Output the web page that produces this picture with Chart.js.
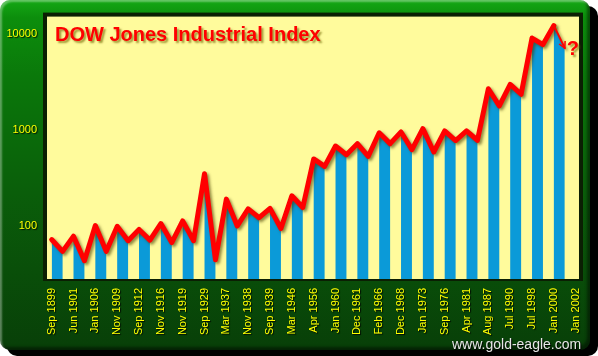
<!DOCTYPE html>
<html><head><meta charset="utf-8">
<script src="https://cdn.jsdelivr.net/npm/chart.js@4/dist/chart.umd.min.js"></script>
<style>
html,body{margin:0;padding:0;background:#fff;width:598px;height:356px;overflow:hidden;}
#shadow{position:absolute;left:7px;top:6px;width:591px;height:350px;background:#000;border-radius:10px;}
#frame{position:absolute;left:0;top:0;width:590px;height:350px;border-radius:10px;
 background:linear-gradient(180deg,#14a814 0%,#0c8e0c 5%,#0a780a 22%,#0a5e0a 55%,#083f08 100%);
 box-shadow:inset 2px 2px 2px rgba(255,255,255,0.35), inset -3px -3px 3px rgba(0,0,0,0.45);}
#c{position:absolute;left:0;top:0;}
#title{position:absolute;left:55px;top:24px;font:bold 20px "Liberation Sans",Arial,sans-serif;line-height:20px;color:#ff0000;text-shadow:2px 2px 2px rgba(110,100,0,0.65);white-space:nowrap;}
#site{position:absolute;left:452px;top:337px;font:14px "Liberation Sans",Arial,sans-serif;line-height:14px;color:#e6e6e6;text-shadow:1px 1px 1px #000;white-space:nowrap;}
</style></head>
<body>
<div id="shadow"></div>
<div id="frame"></div>
<canvas id="c" width="598" height="356"></canvas>
<div id="title">DOW Jones Industrial Index</div>
<div id="site">www.gold-eagle.com</div>
<script>
// category labels (x axis)
const labels = ['Sep 1899','Jun 1901','Jan 1906','Nov 1909','Sep 1912','Nov 1916','Nov 1919','Sep 1929','Mar 1937','Nov 1938','Sep 1939','Mar 1946','Apr 1956','Jan 1960','Dec 1961','Feb 1966','Dec 1968','Jan 1973','Sep 1976','Apr 1981','Aug 1987','Jul 1990','Jul 1998','Jan 2000','Jan 2002'];
// index value at each labelled peak
const peaks = [73, 79, 102, 100, 93, 107, 114, 352, 192, 152, 154, 208, 502, 684, 724, 938, 956, 1037, 980, 985, 2692, 2983, 9048, 12190];
// index value at the following low
const troughs = [55, 44, 55, 71, 72, 68, 71, 45, 101, 123, 95, 157, 420, 555, 535, 724, 628, 593, 780, 785, 1785, 2360, 7748, 7125];
// y axis tick values
const yTicks = [100, 1000, 10000];

const linePts = [];
peaks.forEach((p, i) => { linePts.push({x: i, y: p}); linePts.push({x: i + 0.5, y: troughs[i]}); });
const barPts = peaks.map((p, i) => ({x: i + 0.25, y: p}));
const lastSeg = linePts.length - 1;

const deco = {
  id: 'deco',
  beforeDraw(chart) {
    const {ctx, chartArea: a} = chart;
    ctx.save();
    ctx.fillStyle = '#0b1f03';
    ctx.fillRect(a.left - 4, a.top - 4, a.right - a.left + 8, a.bottom - a.top + 6);
    ctx.fillStyle = '#fffb9c';
    ctx.fillRect(a.left, a.top, a.right - a.left, a.bottom - a.top);
    ctx.restore();
    ctx.save();
    ctx.shadowColor = 'rgba(0,0,0,0.85)';
    ctx.shadowOffsetX = 1; ctx.shadowOffsetY = 1; ctx.shadowBlur = 1;
  },
  beforeDatasetsDraw(chart) { chart.ctx.restore(); },
  beforeDatasetDraw(chart, args) {
    const ctx = chart.ctx;
    ctx.save();
    if (args.meta.type === 'bar') {
      const pts = chart.getDatasetMeta(0).data;
      const b = chart.chartArea.bottom;
      ctx.beginPath();
      ctx.moveTo(pts[0].x, b);
      pts.forEach(p => ctx.lineTo(p.x, p.y));
      ctx.lineTo(pts[pts.length - 1].x, b);
      ctx.closePath();
      ctx.clip();
    } else {
      ctx.shadowColor = 'rgba(70,60,0,0.6)';
      ctx.shadowOffsetX = 2; ctx.shadowOffsetY = 2; ctx.shadowBlur = 3;
    }
  },
  afterDatasetDraw(chart) { chart.ctx.restore(); },
  afterDatasetsDraw(chart) {
    const ctx = chart.ctx;
    const pts = chart.getDatasetMeta(0).data;
    const L = pts[pts.length - 1], P = pts[pts.length - 2];
    const ang = Math.atan2(L.y - P.y, L.x - P.x);
    ctx.save();
    ctx.strokeStyle = '#ff0000';
    ctx.lineWidth = 1.5;
    ctx.beginPath();
    ctx.moveTo(L.x - 7 * Math.cos(ang - 0.5), L.y - 7 * Math.sin(ang - 0.5));
    ctx.lineTo(L.x, L.y);
    ctx.lineTo(L.x - 7 * Math.cos(ang + 0.5), L.y - 7 * Math.sin(ang + 0.5));
    ctx.stroke();
    ctx.shadowColor = 'rgba(110,100,0,0.65)';
    ctx.shadowOffsetX = 2; ctx.shadowOffsetY = 2; ctx.shadowBlur = 2;
    ctx.fillStyle = '#ff0000';
    ctx.font = 'bold 20px "Liberation Sans", Arial, sans-serif';
    ctx.textBaseline = 'alphabetic';
    ctx.fillText('?', L.x + 2, L.y + 7);
    ctx.restore();
  }
};

const tickFont = {family: '"Liberation Sans", Arial, sans-serif', size: 11};

new Chart(document.getElementById('c'), {
  type: 'bar',
  data: {
    datasets: [
      {
        type: 'line', data: linePts, order: 0,
        borderColor: '#ff0000', borderWidth: 5, pointRadius: 0, tension: 0, fill: false,
        borderJoinStyle: 'round', borderCapStyle: 'round',
        segment: { borderWidth: c => c.p1DataIndex === lastSeg ? 2 : undefined }
      },
      {
        type: 'bar', data: barPts, order: 1,
        backgroundColor: '#0b9ad8', borderWidth: 0,
        barPercentage: 0.5, categoryPercentage: 1
      }
    ]
  },
  options: {
    responsive: false, animation: false, devicePixelRatio: 1,
    layout: { padding: { top: 16, right: 15, left: 0, bottom: 0 } },
    plugins: { legend: { display: false }, tooltip: { enabled: false } },
    scales: {
      x: {
        type: 'linear', min: -0.214, max: 24.15, offset: false,
        grid: { display: false, drawTicks: false }, border: { display: false },
        afterBuildTicks: s => { s.ticks = labels.map((_, i) => ({ value: i })); },
        afterFit: s => { s.height = 77; },
        ticks: {
          color: '#ffff00', font: tickFont, autoSkip: false, minRotation: 90, maxRotation: 90, padding: 9,
          callback: v => labels[v] ?? ''
        }
      },
      y: {
        type: 'logarithmic', min: 28.4, max: 15120,
        grid: { display: false, drawTicks: false }, border: { display: false },
        afterBuildTicks: s => { s.ticks = yTicks.map(v => ({ value: v })); },
        afterFit: s => { s.width = 47; },
        ticks: { color: '#ffff00', font: tickFont, padding: 10, callback: v => String(v) }
      }
    }
  },
  plugins: [deco]
});
</script>
</body></html>
